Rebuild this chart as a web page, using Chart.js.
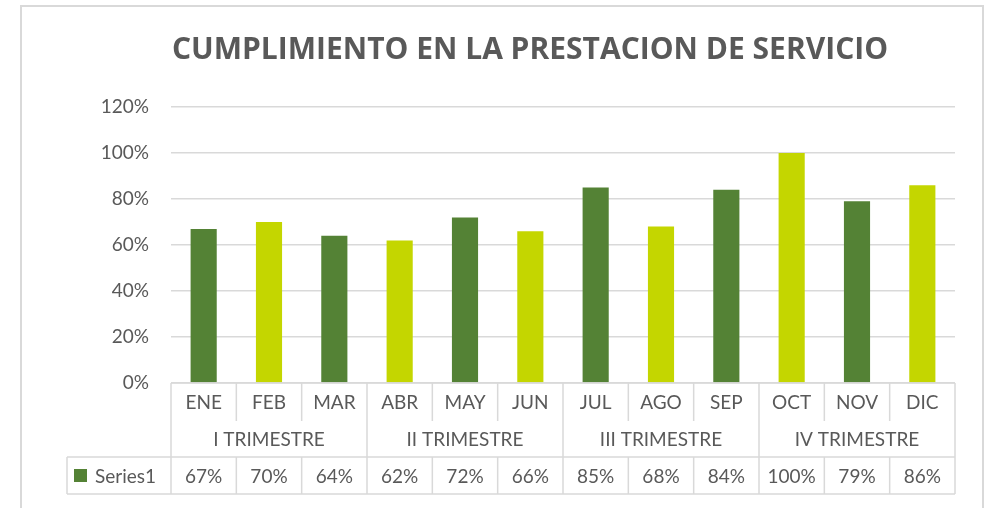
<!DOCTYPE html>
<html lang="es">
<head>
    <meta charset="UTF-8">
    <title>Cumplimiento en la prestación de servicio</title>
    <script src="https://cdn.jsdelivr.net/npm/chart.js"></script>
    <style>
        html, body {
            margin: 0;
            padding: 0;
            background: #ffffff;
        }
        #wrap {
            width: 992px;
            height: 508px;
        }
    </style>
</head>
<body>

<div id="wrap"><canvas id="grafico"></canvas></div>

<script>
    // Datos del gráfico
    const meses = ['ENE', 'FEB', 'MAR', 'ABR', 'MAY', 'JUN', 'JUL', 'AGO', 'SEP', 'OCT', 'NOV', 'DIC'];
    const trimestres = ['I TRIMESTRE', 'II TRIMESTRE', 'III TRIMESTRE', 'IV TRIMESTRE'];
    const cumplimiento = [0.67, 0.70, 0.64, 0.62, 0.72, 0.66, 0.85, 0.68, 0.84, 1.00, 0.79, 0.86];
    const serieNombre = 'Series1';
    const titulo = 'CUMPLIMIENTO EN LA PRESTACION DE SERVICIO';

    const VERDE = '#548235';
    const LIMA = '#c4d600';
    const GRIS_LINEA = '#d9d9d9';
    const GRIS_TEXTO = '#595959';
    const FUENTE = 'Lato, "Open Sans", sans-serif';

    // Marco exterior, título y tabla de datos debajo del eje
    const tablaDatos = {
        id: 'tablaDatos',
        beforeDraw(chart) {
            const c = chart.ctx;
            c.save();
            c.fillStyle = '#ffffff';
            c.fillRect(0, 0, chart.width, chart.height);
            c.strokeStyle = GRIS_LINEA;
            c.lineWidth = 2;
            c.strokeRect(21, 6, 962, 520);

            c.fillStyle = GRIS_TEXTO;
            c.font = 'bold 30px "Open Sans", sans-serif';
            c.textAlign = 'center';
            c.textBaseline = 'middle';
            c.fillText(titulo, 530, 50);
            c.restore();
        },
        afterDraw(chart) {
            const c = chart.ctx;
            const x = chart.scales.x;
            const area = chart.chartArea;
            const n = meses.length;
            const w = (area.right - area.left) / n;
            const y0 = area.bottom;
            const y1 = y0 + 38;   // fin fila meses
            const y2 = y0 + 74;   // fin fila trimestres
            const y3 = y0 + 111;  // fin fila valores
            const izq = 67;

            c.save();
            c.strokeStyle = GRIS_LINEA;
            c.lineWidth = 1.5;
            c.beginPath();
            // horizontales
            c.moveTo(area.left, y0); c.lineTo(area.right, y0);
            c.moveTo(izq, y2); c.lineTo(area.right, y2);
            c.moveTo(izq, y3); c.lineTo(area.right, y3);
            // verticales
            c.moveTo(izq, y2); c.lineTo(izq, y3);
            for (let i = 0; i <= n; i++) {
                const xb = area.left + i * w;
                if (i % 3 === 0) {
                    c.moveTo(xb, y0); c.lineTo(xb, y3);
                } else {
                    c.moveTo(xb, y0); c.lineTo(xb, y1);
                    c.moveTo(xb, y2); c.lineTo(xb, y3);
                }
            }
            c.stroke();

            c.fillStyle = GRIS_TEXTO;
            c.font = '19px ' + FUENTE;
            c.textAlign = 'center';
            c.textBaseline = 'middle';
            meses.forEach((m, i) => {
                const cx = x.getPixelForValue(i);
                c.fillText(m, cx, (y0 + y1) / 2 + 1);
                c.fillText(Math.round(cumplimiento[i] * 100) + '%', cx, (y2 + y3) / 2 + 1);
            });
            trimestres.forEach((t, q) => {
                const cx = area.left + (q * 3 + 1.5) * w;
                c.fillText(t, cx, (y1 + y2) / 2 + 1);
            });

            // leyenda en la tabla
            c.fillStyle = VERDE;
            c.fillRect(74, y2 + 12, 13, 13);
            c.fillStyle = GRIS_TEXTO;
            c.textAlign = 'left';
            c.fillText(serieNombre, 95, (y2 + y3) / 2 + 1);
            c.restore();
        }
    };

    const ctx = document.getElementById('grafico').getContext('2d');
    const grafico = new Chart(ctx, {
        type: 'bar',
        data: {
            labels: meses,
            datasets: [{
                label: serieNombre,
                data: cumplimiento,
                backgroundColor: (c) => c.dataIndex % 2 ? LIMA : VERDE,
                categoryPercentage: 1,
                barPercentage: 0.4
            }]
        },
        options: {
            responsive: true,
            maintainAspectRatio: false,
            animation: false,
            layout: {
                padding: { left: 0, right: 37, top: 107, bottom: 0 }
            },
            plugins: {
                legend: { display: false },
                tooltip: { enabled: false },
                title: { display: false }
            },
            scales: {
                x: {
                    ticks: { display: false },
                    grid: { display: false },
                    border: { display: false },
                    afterFit(scale) { scale.height = 125; }
                },
                y: {
                    min: 0,
                    max: 1.2,
                    ticks: {
                        stepSize: 0.2,
                        color: GRIS_TEXTO,
                        padding: 22,
                        font: { family: FUENTE, size: 19 },
                        callback: (v) => Math.round(v * 100) + '%'
                    },
                    grid: { color: GRIS_LINEA, lineWidth: 1.5, drawTicks: false },
                    border: { display: false },
                    afterFit(scale) { scale.width = 171; }
                }
            }
        },
        plugins: [tablaDatos]
    });
</script>

</body>
</html>
